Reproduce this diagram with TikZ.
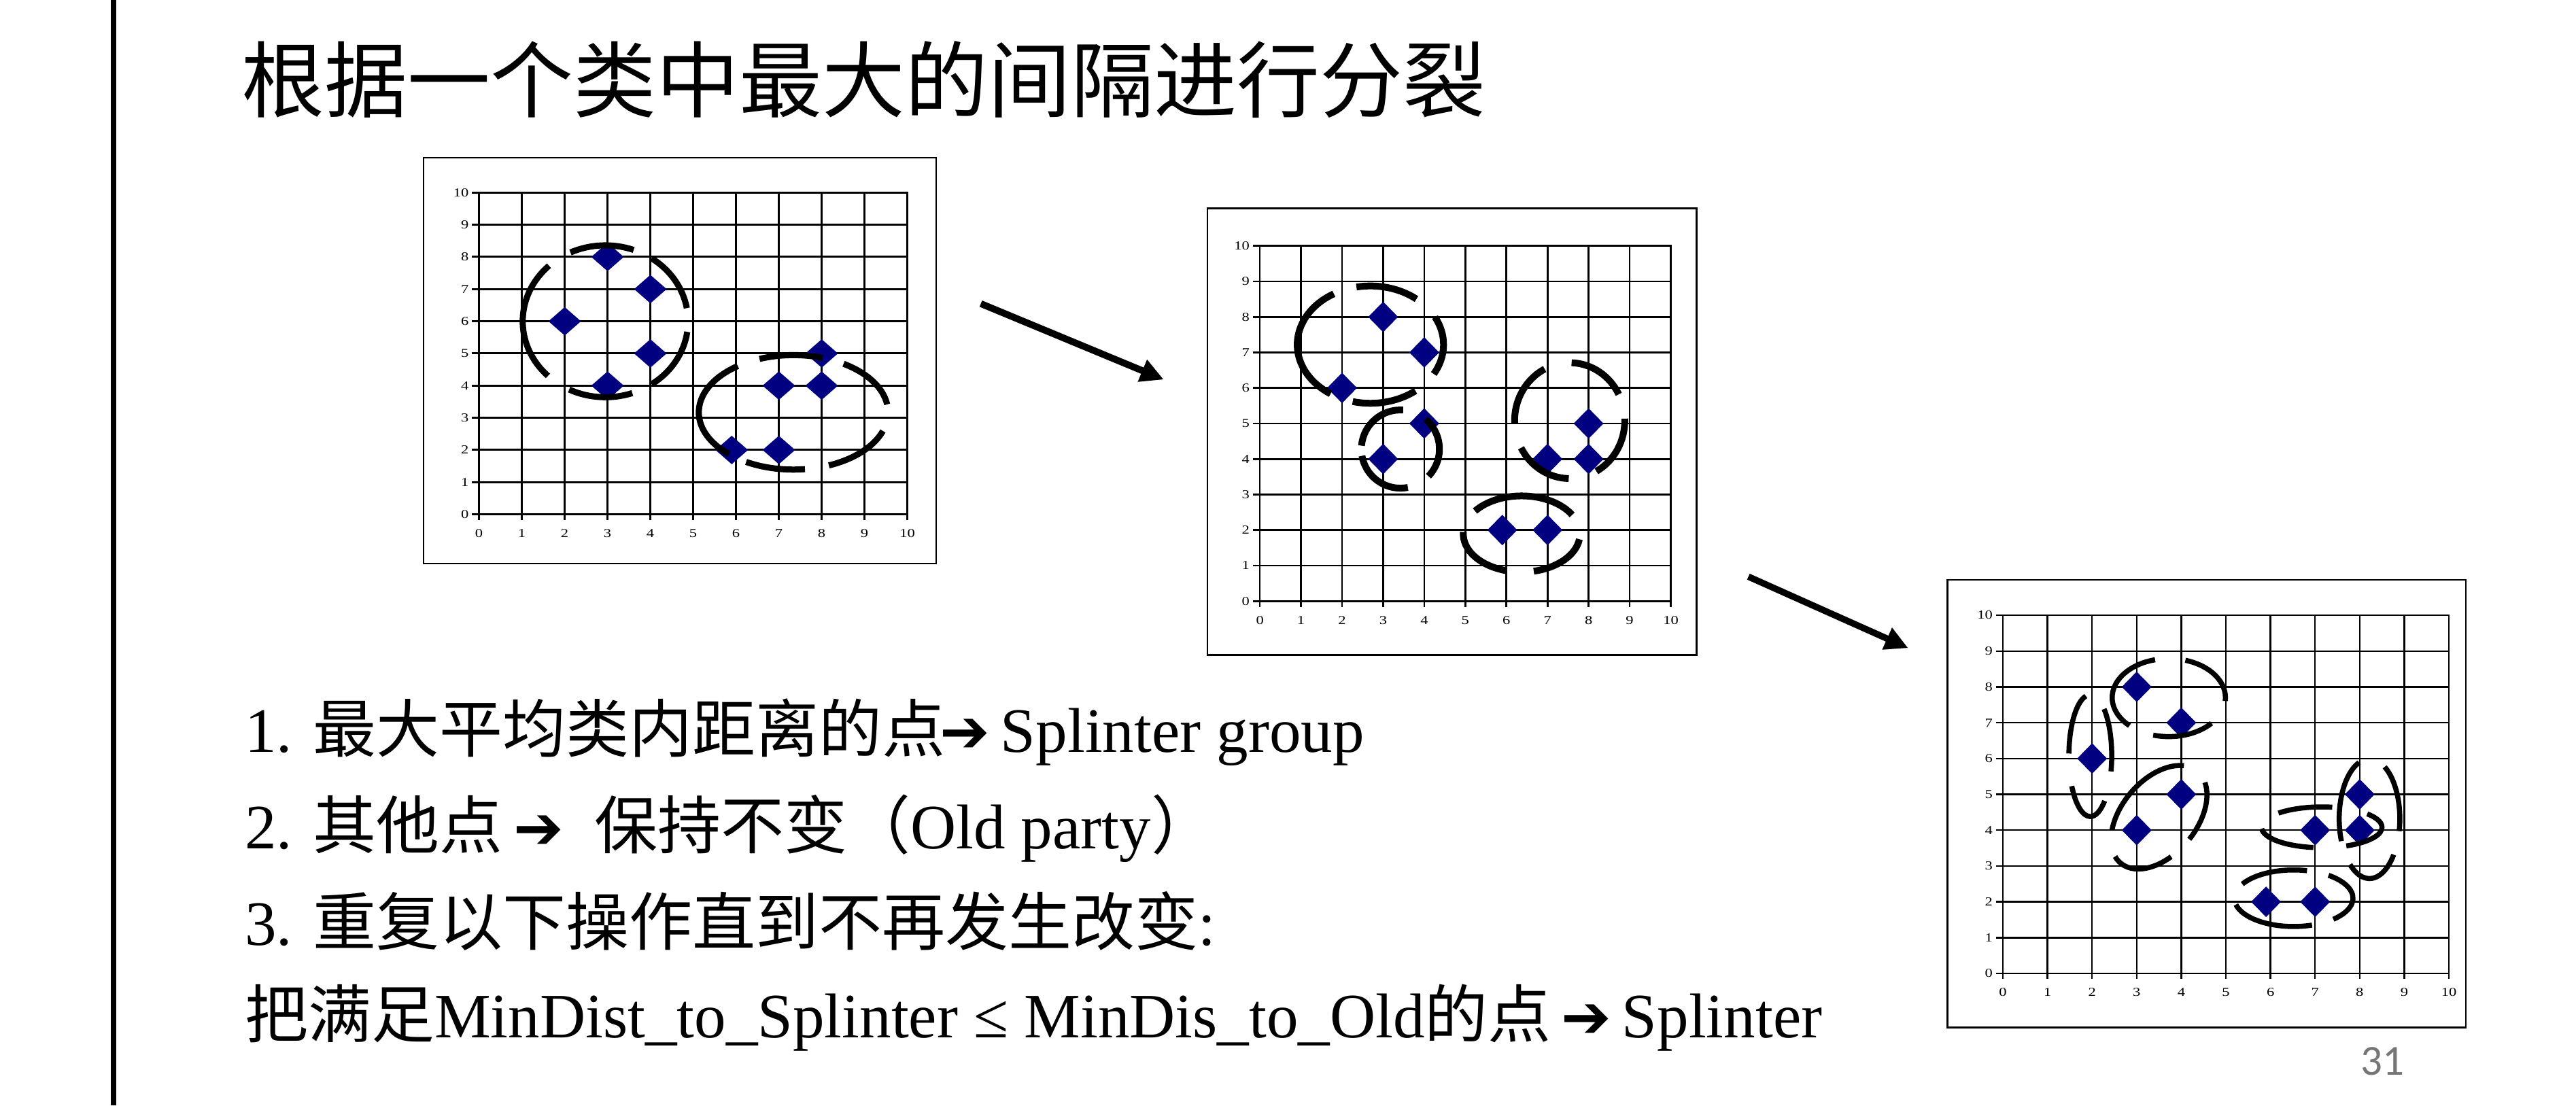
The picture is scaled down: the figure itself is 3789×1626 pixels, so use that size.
\documentclass[tikz,border=0pt]{standalone}
\usepackage{fontspec}
\setmainfont{Liberation Serif}
\newfontfamily\cjk{Noto Sans CJK SC}
\newfontfamily\symf{DejaVu Sans}
\newfontfamily\pgnum{Carlito}
\newfontfamily\tickf{Liberation Serif}[FakeStretch=1.25]
\usetikzlibrary{shapes.geometric,arrows.meta}
\definecolor{navy}{RGB}{0,0,128}
\definecolor{pggray}{RGB}{118,118,118}
\newcommand\arrowg{{\kern-8pt\symf\fontsize{88}{88}\selectfont ➔\kern-8pt}}
% dashed ellipse drawn as explicit arcs
\newcommand\DashRing[6]{%
  \begin{scope}[shift={#1},rotate=#4]
    \foreach \sa/\ea in {#6}{%
      \draw[line width=#5] (\sa:#2 and #3) arc[start angle=\sa, end angle=\ea, x radius=#2, y radius=#3];
    }
  \end{scope}}
\newcommand\ChartGrid[1]{%
  \foreach \i in {0,...,10}{%
    \draw[gridl] (\i,0) -- (\i,10);
    \draw[gridl] (0,\i) -- (10,\i);
    \draw[gridl] (\i,0) -- ++(0,-7pt);
    \draw[gridl] (0,\i) -- ++(-9pt,0);
    \node[tickl,anchor=east,xshift=-15pt] (#1y\i) at (0,\i) {\i};
    \node[tickl,yshift=-28pt] (#1x\i) at (\i,0) {\i};
  }}
\newcommand\ChartPts[1]{%
  \foreach \px/\py [count=\k] in {2/6,3/8,4/7,4/5,3/4,5.9/2,7/2,7/4,8/4,8/5}{%
    \node[dia] (#1p\k) at (\px,\py) {};
  }}
\begin{document}
\begin{tikzpicture}[x=1pt,y=-1pt,
  gridl/.style={line width=2.6pt, line cap=rect},
  tickl/.style={font=\tickf\fontsize{18}{18}\selectfont, inner sep=0},
  dia/.style={shape=diamond, fill=navy, inner sep=0, minimum width=44pt, minimum height=45pt},
  framel/.style={draw, line width=2.5pt, inner sep=0},
  bigarrow/.style={line width=10pt, -{Triangle[length=34pt,width=33pt]}},
  body/.style={anchor=base west, inner sep=0, font=\fontsize{93}{100}\selectfont}]
\fill[white] (0,0) rectangle (3789,1626);
\useasboundingbox (0,0) rectangle (3789,1626);
% left bar
\fill (163.3,0) rectangle (170.7,1626);
% title
\node[anchor=base west, inner sep=0, font=\cjk\fontsize{122}{130}\selectfont] (title) at (355,163) {根据一个类中最大的间隔进行分裂};
% frames
\node[framel, minimum width=754pt, minimum height=597pt] (frame1) at (1000,530.5) {};
\node[framel, minimum width=719.7pt, minimum height=656.9pt] (frame2) at (2135.85,634.95) {};
\node[framel, minimum width=762.7pt, minimum height=658.3pt] (frame3) at (3245.65,1182.15) {};
% chart 1
\begin{scope}[shift={(704.6,756.6)}, x=63pt, y=47.33pt, gridl/.append style={line width=3pt}, dia/.append style={minimum width=48pt, minimum height=42pt}]
  \ChartGrid{ca}
  \ChartPts{ca}
  \DashRing{(2.95,6.0)}{121.6pt}{111.7pt}{0}{9pt}{10/56,70/115,133/226,244/289,304/352}
  \DashRing{(7.34,3.17)}{139.2pt}{84.2pt}{0}{9pt}{72/111,8/58,-68/-19,240/277,126/227}
\end{scope}
% chart 2
\begin{scope}[shift={(1853.1,884.2)}, x=60.44pt, y=52.25pt]
  \ChartGrid{cb}
  \ChartPts{cb}
  \DashRing{(2.69,7.22)}{107.6pt}{86.3pt}{0}{10pt}{120/237,256/308,51/101,-30/28}
  \DashRing{(3.42,4.28)}{57.4pt}{57.5pt}{0}{10pt}{86/175,190/281,-44/50}
  \DashRing{(7.54,5.08)}{81pt}{85.2pt}{0}{10pt}{117/183,27/88,-61/2,208/269}
  \DashRing{(6.37,1.89)}{85.8pt}{56pt}{0}{10pt}{30/143,177/255,282/352}
\end{scope}
% chart 3
\begin{scope}[shift={(2946,1432)}, x=65.6pt, y=52.7pt, gridl/.append style={line width=2.4pt}]
  \ChartGrid{cc}
  \ChartPts{cc}
  \DashRing{(1.96,6.08)}{31.5pt}{89.6pt}{0}{7.5pt}{102/178,-15/50,210/312}
  \DashRing{(3.72,7.7)}{83.3pt}{57.4pt}{0}{7.5pt}{104/226,-5/73,254/319}
  \DashRing{(3.50,4.36)}{88pt}{55pt}{50}{7.5pt}{22/132,272.5/340,167/248}
  \DashRing{(6.52,2.1)}{87.2pt}{41.6pt}{0}{7.5pt}{77/150,-48/54,193/288}
  \DashRing{(7.15,4.08)}{88.6pt}{30pt}{0}{7.5pt}{80/136,184/262,-66/41}
  \DashRing{(8.22,4.32)}{44.6pt}{88pt}{0}{7.5pt}{110/202,-12/60,230/323}
\end{scope}
% arrows between charts
\coordinate (a1s) at (1442.7,446.7);
\coordinate (a1e) at (1711.7,558.3);
\coordinate (a2s) at (2571.7,848.3);
\coordinate (a2e) at (2806.7,953.3);
\draw[bigarrow] (a1s) -- (a1e);
\draw[bigarrow, line width=9.5pt] (a2s) -- (a2e);
% text lines
\node[body] (l1) at (360,1106) {1. {\cjk 最大平均类内距离的点}\arrowg{} Splinter group};
\node[body] (l2) at (360,1248) {2. {\cjk 其他点} \arrowg{} \hspace{30pt}{\cjk 保持不变（}Old party{\cjk ）}};
\node[body] (l3) at (360,1390) {3. {\cjk 重复以下操作直到不再发生改变}:};
\node[body] (l4) at (360,1526) {{\cjk 把满足}MinDist\_to\_Splinter ≤ MinDis\_to\_Old{\cjk 的点} \arrowg{} Splinter};
% page number
\node[font=\pgnum\fontsize{63}{63}\selectfont, text=pggray, inner sep=0] (pg) at (3504,1561) {31};
\end{tikzpicture}
\end{document}
